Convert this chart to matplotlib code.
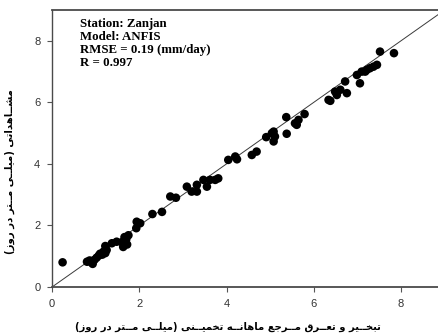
import matplotlib
matplotlib.use('Agg')
import matplotlib.pyplot as plt
import numpy as np

# estimated (x) vs observed (y) monthly ET0, mm/day
pred = [0.24,
        0.80, 0.86, 0.90, 0.93, 0.97,
        1.02, 1.07, 1.10, 1.15, 1.18, 1.22, 1.25,
        1.22, 1.37, 1.48,
        1.60, 1.63, 1.66, 1.70, 1.72, 1.75,
        1.94, 1.93, 2.02,
        2.30, 2.52,
        2.71, 2.84,
        3.09, 3.20, 3.32, 3.32,
        3.47, 3.55, 3.62, 3.74, 3.81,
        4.04, 4.20, 4.24,
        4.58, 4.69,
        4.91, 5.04, 5.08, 5.11, 5.08,
        5.37, 5.38,
        5.57, 5.65, 5.61, 5.79,
        6.34, 6.38,
        6.49, 6.53, 6.61, 6.72, 6.76,
        6.99, 7.06, 7.10, 7.18, 7.22, 7.29, 7.37, 7.45,
        7.52, 7.84]
obs = [0.80,
       0.82, 0.86, 0.80, 0.75, 0.88,
       0.95, 1.02, 1.08, 1.05, 1.15, 1.10, 1.20,
       1.33, 1.42, 1.47,
       1.45, 1.30, 1.62, 1.55, 1.38, 1.68,
       2.12, 1.91, 2.07,
       2.37, 2.44,
       2.94, 2.90,
       3.26, 3.10, 3.32, 3.10,
       3.48, 3.26, 3.48, 3.48, 3.53,
       4.13, 4.24, 4.15,
       4.29, 4.40,
       4.87, 5.00, 4.73, 4.89, 5.05,
       5.52, 4.98,
       5.32, 5.43, 5.27, 5.62,
       6.08, 6.05,
       6.35, 6.24, 6.41, 6.68, 6.30,
       6.89, 6.62, 7.00, 7.00, 7.06, 7.11, 7.16, 7.22,
       7.65, 7.60]

xticks = [0, 2, 4, 6, 8]
yticks = [0, 2, 4, 6, 8]
info = "Station: Zanjan\nModel: ANFIS\nRMSE = 0.19 (mm/day)\nR = 0.997"
xlabel_fa = "تبخــیر و تعــرق مــرجع ماهانــه تخمیــنی (میلــی مــتر در روز)"
ylabel_fa = "مشــاهداتی (میلــی مــتر در روز)"

# matplotlib has no bidi/shaping, so pick presentation forms by hand
# (isolated, final, initial, medial)
FORMS = {
    'ا': (0xFE8D, 0xFE8E),
    'ب': (0xFE8F, 0xFE90, 0xFE91, 0xFE92),
    'ت': (0xFE95, 0xFE96, 0xFE97, 0xFE98),
    'ج': (0xFE9D, 0xFE9E, 0xFE9F, 0xFEA0),
    'خ': (0xFEA5, 0xFEA6, 0xFEA7, 0xFEA8),
    'د': (0xFEA9, 0xFEAA),
    'ر': (0xFEAD, 0xFEAE),
    'ز': (0xFEAF, 0xFEB0),
    'ش': (0xFEB5, 0xFEB6, 0xFEB7, 0xFEB8),
    'ع': (0xFEC9, 0xFECA, 0xFECB, 0xFECC),
    'ق': (0xFED5, 0xFED6, 0xFED7, 0xFED8),
    'ل': (0xFEDD, 0xFEDE, 0xFEDF, 0xFEE0),
    'م': (0xFEE1, 0xFEE2, 0xFEE3, 0xFEE4),
    'ن': (0xFEE5, 0xFEE6, 0xFEE7, 0xFEE8),
    'ه': (0xFEE9, 0xFEEA, 0xFEEB, 0xFEEC),
    'و': (0xFEED, 0xFEEE),
    'ی': (0xFBFC, 0xFBFD, 0xFBFE, 0xFBFF),
}
TATWEEL = 'ـ'


def shape(text):
    def links_next(c):
        return c == TATWEEL or (c in FORMS and len(FORMS[c]) == 4)

    def links_prev(c):
        return c == TATWEEL or c in FORMS

    out = []
    for i, c in enumerate(text):
        if c not in FORMS:
            out.append(c)
            continue
        prev = text[i - 1] if i > 0 else ''
        nxt = text[i + 1] if i + 1 < len(text) else ''
        f = FORMS[c]
        r = links_next(prev)
        l = len(f) == 4 and links_prev(nxt)
        if r and l:
            g = f[3]
        elif r:
            g = f[1]
        elif l:
            g = f[2]
        else:
            g = f[0]
        out.append(chr(g))
    vis = ''.join(out)[::-1]
    return vis.translate(str.maketrans('()', ')('))


fig = plt.figure(figsize=(4.38, 3.36), dpi=100)
ax = fig.add_axes([0.119, 0.146, 0.881, 0.824])

ax.plot([0, 9], [0, 9], color='#3a3a3a', linewidth=0.7, zorder=2)
ax.scatter(pred, obs, s=38, color='black', edgecolors='none', zorder=3)

ax.set_xlim(0, 8.85)
ax.set_ylim(0, 9)
ax.set_xticks(xticks)
ax.set_yticks(yticks)
ax.set_xticklabels([str(t) for t in xticks], fontsize=8, family='Liberation Sans', color='#333333')
ax.set_yticklabels([str(t) for t in yticks], fontsize=8, family='Liberation Sans', color='#333333')
ax.tick_params(direction='out', length=3.5, width=0.8, color='#555555', pad=5)

for side in ['left', 'bottom', 'top']:
    ax.spines[side].set_color('#4a4a4a')
    ax.spines[side].set_linewidth(1.3)
ax.spines['left'].set_linewidth(1.0)
ax.spines['right'].set_visible(False)

ax.text(0.073, 0.972, info, transform=ax.transAxes, va='top', ha='left',
        fontsize=9.3, fontweight='bold', family='Liberation Serif', linespacing=1.12)

ax.set_xlabel(shape(xlabel_fa), fontsize=7.2, fontweight='bold', family='DejaVu Sans')
ax.set_ylabel(shape(ylabel_fa), fontsize=7.3, fontweight='bold', family='DejaVu Sans')
ax.xaxis.set_label_coords(0.456, -0.125)
ax.yaxis.set_label_coords(-0.095, 0.415)

fig.savefig('out.png', dpi=100)
